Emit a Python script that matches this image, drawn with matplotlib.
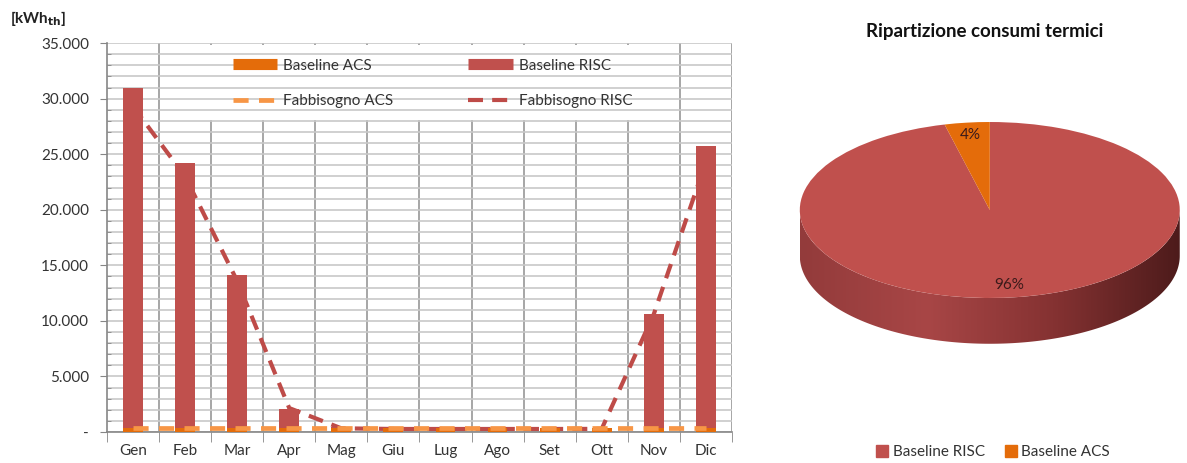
import numpy as np
import matplotlib
matplotlib.use("Agg")
import matplotlib.pyplot as plt
from matplotlib.lines import Line2D
from matplotlib.patches import Patch, Polygon, Rectangle
from matplotlib.colors import LinearSegmentedColormap
from matplotlib.ticker import FuncFormatter, MultipleLocator

plt.rcParams['font.family'] = ['Lato', 'DejaVu Sans']

# monthly thermal consumption, kWh_th
mesi = ["Gen", "Feb", "Mar", "Apr", "Mag", "Giu", "Lug", "Ago", "Set", "Ott", "Nov", "Dic"]
baseline_acs = [350, 350, 350, 350, 350, 350, 350, 350, 350, 350, 350, 350]
baseline_risc = [30600, 23850, 13780, 1720, 100, 0, 0, 0, 0, 0, 10270, 25390]
fabbisogno_acs = [320, 320, 320, 320, 320, 320, 320, 320, 320, 320, 320, 320]
fabbisogno_risc = [29300, 23000, 13600, 2150, 330, 270, 270, 270, 270, 280, 10600, 24300]

C_RISC = '#c0504d'
C_ACS = '#e46c0a'
C_FACS = '#f79646'
C_FRISC = '#be4b48'
TXT = '#333333'

fig = plt.figure(figsize=(11.87, 4.63), dpi=100)

# ---- monthly bars ----
ax = fig.add_axes([0.0901, 0.067, 0.5265, 0.840])
x = np.arange(len(mesi))
w = 0.38

ax.plot(x, fabbisogno_risc, color=C_FRISC, lw=3.0, dashes=(3.6, 2.2), zorder=2)
ax.bar(x, baseline_acs, w, color=C_ACS, zorder=3)
ax.bar(x, baseline_risc, w, bottom=baseline_acs, color=C_RISC, zorder=3)
ax.plot(x, fabbisogno_acs, color=C_FACS, lw=3.4, dashes=(3.2, 2.2), zorder=4)

ax.set_xlim(-0.5, 11.5)
ax.set_ylim(0, 35000)
ax.yaxis.set_major_locator(MultipleLocator(5000))
ax.yaxis.set_minor_locator(MultipleLocator(1000))
ax.yaxis.set_major_formatter(FuncFormatter(lambda v, p: '-' if v == 0 else f"{v:,.0f}".replace(',', '.')))
ax.grid(which='both', axis='y', color='#c8c8c8', lw=1.2, zorder=0)

bordi = np.arange(-0.5, 12, 1)
ax.set_xticks(x)
ax.set_xticklabels(mesi)
ax.set_xticks(bordi, minor=True)
for b in bordi[1:]:
    ax.axvline(b, color='#a6a6a6', lw=1.4, zorder=1)

ax.tick_params(axis='x', which='major', length=0, pad=9, labelsize=11, labelcolor=TXT)
ax.tick_params(axis='x', which='minor', length=7, color='#868686', direction='out')
ax.tick_params(axis='y', which='major', length=5, color='#868686', direction='out', labelsize=11, labelcolor=TXT, pad=8)
ax.tick_params(axis='y', which='minor', length=3, color='#868686', direction='in')
for s in ['top', 'right']:
    ax.spines[s].set_visible(False)
for s in ['left', 'bottom']:
    ax.spines[s].set_color('#868686')
    ax.spines[s].set_linewidth(1.2)

# white panel behind the legend
ax.add_patch(Rectangle((0.1376, 0.802), 0.758, 0.193, transform=ax.transAxes,
                       facecolor='white', edgecolor='none', zorder=1.5))
handles = [
    Line2D([], [], color=C_ACS, lw=8, solid_capstyle='butt'),
    Line2D([], [], color=C_FACS, lw=3.4, dashes=(3.2, 2.2)),
    Line2D([], [], color=C_RISC, lw=8, solid_capstyle='butt'),
    Line2D([], [], color=C_FRISC, lw=3.0, dashes=(3.6, 2.2)),
]
labels = ["Baseline ACS", "Fabbisogno ACS", "Baseline RISC", "Fabbisogno RISC"]
leg = ax.legend(handles, labels, ncol=2, loc='upper left', bbox_to_anchor=(0.2016, 0.960),
                frameon=False, fontsize=11, handlelength=2.9, handletextpad=0.4,
                columnspacing=4.9, labelspacing=1.4, borderpad=0, borderaxespad=0)
for t in leg.get_texts():
    t.set_color(TXT)

fig.text(10 / 1187, 1 - 18 / 463, r'[kWh$_{\mathbf{th}}$]', fontsize=11, fontweight='bold',
         va='center', ha='left', color='#222222')

# ---- 3D-looking pie of the yearly split ----
tot_risc = sum(baseline_risc)
tot_acs = sum(baseline_acs)

pax = fig.add_axes([0.6706, 0.2233, 0.3265, 0.5322])
depth = 0.52
t = np.linspace(np.pi, 2 * np.pi, 200)
side = np.concatenate([np.column_stack([np.cos(t), np.sin(t)]),
                       np.column_stack([np.cos(t[::-1]), np.sin(t[::-1]) - depth])])
side_patch = Polygon(side, closed=True, facecolor='none', edgecolor='none')
pax.add_patch(side_patch)
grad = LinearSegmentedColormap.from_list('lato', ['#933b3b', '#a84646', '#853232', '#4d1b1b'])
img = pax.imshow(np.linspace(0, 1, 256)[None, :], cmap=grad, aspect='auto',
                 extent=[-1, 1, -1 - depth, 0], zorder=1)
img.set_clip_path(side_patch)

wedges, texts, autotexts = pax.pie([tot_risc, tot_acs], colors=[C_RISC, C_ACS], startangle=90,
                                   counterclock=False, autopct='%1.0f%%', pctdistance=0.86,
                                   wedgeprops=dict(edgecolor='none'),
                                   textprops=dict(fontsize=11, color='#3a1a1a'))
for wdg in wedges:
    wdg.set_zorder(2)
for at in autotexts:
    at.set_zorder(3)
pax.set_aspect('auto')
pax.set_xlim(-1.02, 1.02)
pax.set_ylim(-1.7, 1.1)
pax.axis('off')

fig.text(985 / 1187, 1 - 32 / 463, "Ripartizione consumi termici", fontsize=13.5,
         fontweight='bold', ha='center', va='center', color='#111111')

pleg = fig.legend([Patch(color=C_RISC), Patch(color=C_ACS)], ["Baseline RISC", "Baseline ACS"],
                  ncol=2, loc='center', bbox_to_anchor=(993 / 1187, 11 / 463), frameon=False,
                  fontsize=11, handlelength=0.8, handleheight=0.8, handletextpad=0.3,
                  columnspacing=1.3)
for t_ in pleg.get_texts():
    t_.set_color(TXT)

fig.savefig("out.png", dpi=100)
